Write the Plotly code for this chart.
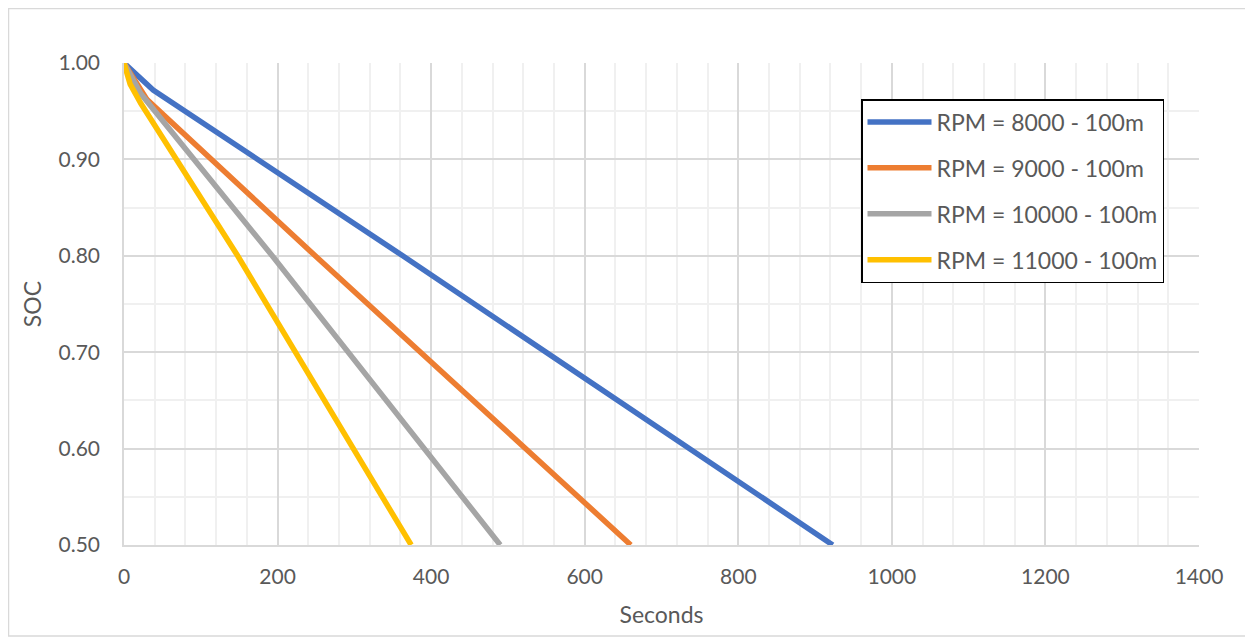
import plotly.graph_objects as go

names = ["RPM = 8000 - 100m", "RPM = 9000 - 100m", "RPM = 10000 - 100m", "RPM = 11000 - 100m"]
colors = ["#4472C4", "#ED7D31", "#A5A5A5", "#FFC000"]

x_8000 = [0, 38, 363, 923]
y_8000 = [1.00, 0.972, 0.800, 0.500]
x_9000 = [0, 30, 249, 660]
y_9000 = [1.00, 0.962, 0.800, 0.500]
x_10000 = [0, 22, 193, 490]
y_10000 = [1.00, 0.968, 0.800, 0.500]
x_11000 = [0, 8, 22, 148, 374]
y_11000 = [1.00, 0.978, 0.958, 0.800, 0.500]

xs = [x_8000, x_9000, x_10000, x_11000]
ys = [y_8000, y_9000, y_10000, y_11000]

font = "Lato, 'Open Sans', sans-serif"
fig = go.Figure()
for i in range(4):
    fig.add_trace(go.Scatter(x=xs[i], y=ys[i], mode="lines", name=names[i],
                             line=dict(color=colors[i], width=5.5),
                             legendgroup=str(i)))

W, H = 1245, 632
L, R, T, B = 116, 54, 55, 95
pw, ph = W - L - R, H - T - B

fig.update_layout(
    width=W, height=H,
    margin=dict(l=L, r=R, t=T, b=B),
    paper_bgcolor="white", plot_bgcolor="white",
    font=dict(family=font, color="#595959", size=21),
    showlegend=True,
    legend=dict(x=(853 - L) / pw, y=(T + ph - 91) / ph, xanchor="left", yanchor="top",
                bordercolor="black", borderwidth=1.5, bgcolor="white",
                font=dict(size=23, color="#595959", family=font),
                traceorder="grouped", tracegroupgap=13, itemwidth=64),
    xaxis=dict(range=[0, 1400], dtick=200, tick0=0, showgrid=True,
               gridcolor="#d9d9d9", gridwidth=1.5,
               minor=dict(dtick=40, showgrid=True, gridcolor="#f0f0f0", gridwidth=1.5),
               showline=True, linecolor="#d9d9d9", linewidth=1.5,
               zeroline=False, ticks="", ticklabelstandoff=12,
               title=dict(text="Seconds", font=dict(size=23), standoff=20),
               tickfont=dict(size=21)),
    yaxis=dict(range=[0.5, 1.0], dtick=0.1, tick0=0.5, tickformat=".2f",
               showgrid=True, gridcolor="#d9d9d9", gridwidth=1.5,
               minor=dict(dtick=0.05, showgrid=True, gridcolor="#f0f0f0", gridwidth=1.5),
               showline=True, linecolor="#d9d9d9", linewidth=1.5,
               zeroline=False, ticks="", ticklabelstandoff=18,
               title=dict(text="SOC", font=dict(size=23), standoff=10),
               tickfont=dict(size=21)),
    shapes=[dict(type="rect", xref="paper", yref="paper",
                 x0=(0.5 - L) / pw, x1=(1239 - L) / pw,
                 y0=(T + ph - 628) / ph, y1=(T + ph - 0.5) / ph,
                 line=dict(color="#d9d9d9", width=1.5), layer="below")],
)

fig.write_html("out.html")
